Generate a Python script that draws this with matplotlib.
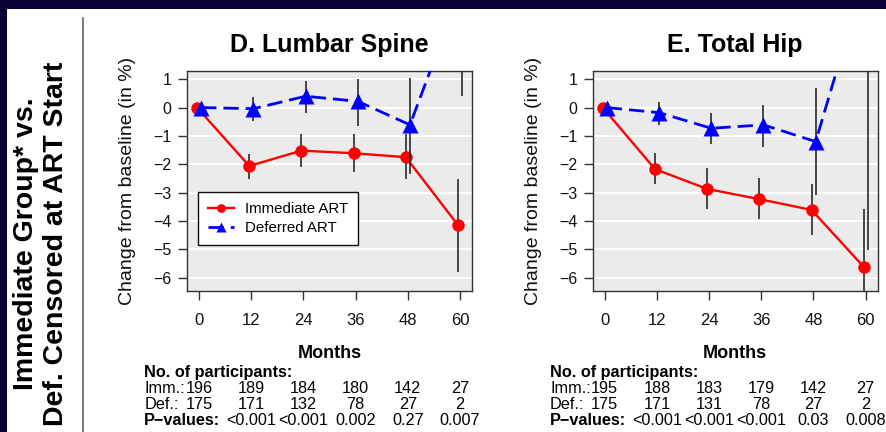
import numpy as np
import matplotlib
matplotlib.use('Agg')
import matplotlib.pyplot as plt
import matplotlib.transforms as mtransforms
from matplotlib.patches import Rectangle
from matplotlib.lines import Line2D

plt.rcParams['font.family'] = ['Liberation Sans', 'DejaVu Sans']

nan = np.nan
months = [0, 12, 24, 36, 48, 60]

# D. Lumbar Spine
spine_imm = [0, -2.06, -1.52, -1.61, -1.75, -4.15]
spine_imm_lo = [nan, -2.52, -2.10, -2.28, -2.53, -5.80]
spine_imm_hi = [nan, -1.64, -0.93, -0.94, -0.93, -2.52]
spine_def = [0, -0.04, 0.40, 0.22, -0.61, 4.30]
spine_def_lo = [nan, -0.47, -0.20, -0.65, -2.34, 0.41]
spine_def_hi = [nan, 0.39, 0.92, 1.00, 1.04, 8.20]
spine_n_imm = [196, 189, 184, 180, 142, 27]
spine_n_def = [175, 171, 132, 78, 27, 2]
spine_p = ['<0.001', '<0.001', '0.002', '0.27', '0.007']

# E. Total Hip
hip_imm = [0, -2.17, -2.87, -3.23, -3.61, -5.62]
hip_imm_lo = [nan, -2.71, -3.58, -3.94, -4.50, -7.68]
hip_imm_hi = [nan, -1.61, -2.14, -2.50, -2.71, -3.56]
hip_def = [0, -0.18, -0.73, -0.61, -1.20, 5.00]
hip_def_lo = [nan, -0.61, -1.28, -1.38, -3.08, -5.03]
hip_def_hi = [nan, 0.21, -0.20, 0.09, 0.69, 15.0]
hip_n_imm = [195, 188, 183, 179, 142, 27]
hip_n_def = [175, 171, 131, 78, 27, 2]
hip_p = ['<0.001', '<0.001', '<0.001', '0.03', '0.008']

W, H = 886, 432
NAVY = '#0a0033'


def ay(px):
    # pixel row -> axes fraction (axes spans rows 71..291)
    return 1 - (px - 71) / 220.0


def draw_panel(ax, title, imm, imm_lo, imm_hi, dfr, dfr_lo, dfr_hi,
               n_imm, n_def, pvals, legend=False):
    ax.set_facecolor('#ebebeb')
    for yv in range(-6, 2):
        ax.axhline(yv, color='white', lw=1.5, zorder=1)
    x_imm = [m - 0.45 for m in months]
    x_def = [m + 0.5 for m in months]
    ax.vlines(x_imm, imm_lo, imm_hi, color='#1a1a1a', lw=1.1, zorder=2)
    ax.plot(x_imm, imm, color='#ff0000', lw=1.7, marker='o', ms=9,
            mec='none', zorder=3, label='Immediate ART')
    ax.vlines(x_def, dfr_lo, dfr_hi, color='#1a1a1a', lw=1.1, zorder=4)
    ax.plot(x_def, dfr, color='#0000ff', lw=2.0, ls=(0, (5.5, 2.5)),
            marker='^', ms=11, mec='none', zorder=5, label='Deferred ART')

    ax.set_xlim(-2.76, 62.76)
    ax.set_ylim(-6.47, 1.29)
    ax.set_xticks(months)
    ax.set_yticks(range(-6, 2))
    ax.tick_params(direction='out', length=6.5, width=1, color='#333333',
                   labelsize=11.5, labelcolor='#111111')
    ax.tick_params(axis='x', pad=9, labelsize=12)
    ax.tick_params(axis='y', pad=4.7)
    for sp in ax.spines.values():
        sp.set_color('#333333')
        sp.set_linewidth(1.0)

    ax.set_title(title, fontsize=18, fontweight='bold', pad=13.9)
    ax.set_ylabel('Change from baseline (in %)', fontsize=14, color='#111111')
    ax.yaxis.set_label_coords(-0.179, 0.5)

    if legend:
        leg = ax.legend(loc='upper left', bbox_to_anchor=(0.04, 0.449),
                        fontsize=10.8, frameon=True, fancybox=False,
                        edgecolor='#111111', framealpha=1, borderpad=0.65,
                        handlelength=1.7, handletextpad=0.75,
                        labelspacing=0.35, markerscale=0.7, borderaxespad=0)
        leg.get_frame().set_linewidth(1.0)
        leg.set_zorder(10)

    # participants / p-values table
    tr = mtransforms.blended_transform_factory(ax.transData, ax.transAxes)
    xl = (144.3 - 187) / 285.0
    fs = 11.7
    ax.text(0.5, ay(357.7), 'Months', transform=ax.transAxes, ha='center',
            va='baseline', fontsize=13, fontweight='bold')
    ax.text(xl, ay(377.3), 'No. of participants:', transform=ax.transAxes,
            ha='left', va='baseline', fontsize=fs, fontweight='bold')
    ax.text(xl, ay(393.3), 'Imm.:', transform=ax.transAxes, ha='left',
            va='baseline', fontsize=fs)
    ax.text(xl, ay(409.3), 'Def.:', transform=ax.transAxes, ha='left',
            va='baseline', fontsize=fs)
    ax.text(xl, ay(425.3), 'P\u2212values:', transform=ax.transAxes,
            ha='left', va='baseline', fontsize=fs, fontweight='bold')
    for m, a, b in zip(months, n_imm, n_def):
        ax.text(m, ay(393.3), str(a), transform=tr, ha='center',
                va='baseline', fontsize=fs)
        ax.text(m, ay(409.3), str(b), transform=tr, ha='center',
                va='baseline', fontsize=fs)
    for m, p in zip(months[1:], pvals):
        ax.text(m, ay(425.3), p, transform=tr, ha='center', va='baseline',
                fontsize=fs)


fig = plt.figure(figsize=(W / 100, H / 100), dpi=100)
fig.patch.set_facecolor('white')
# navy frame bands (top and left)
fig.add_artist(Rectangle((0, 1 - 9.3 / H), 1, 9.3 / H, transform=fig.transFigure,
                         facecolor=NAVY, edgecolor='none'))
fig.add_artist(Rectangle((0, 0), 7 / W, 1, transform=fig.transFigure,
                         facecolor=NAVY, edgecolor='none'))
fig.add_artist(Line2D([83.3 / W, 83.3 / W], [0, 1 - 18.3 / H],
                      transform=fig.transFigure, color='#666666', lw=1.2))
fig.text(41 / W, 1 - 244 / H, 'Immediate Group* vs.\nDef. Censored at ART Start',
         rotation=90, ha='center', va='center', fontsize=20.5,
         fontweight='bold', multialignment='center', linespacing=1.2)

ax1 = fig.add_axes([187 / W, 1 - 291 / H, 285 / W, 220 / H])
ax2 = fig.add_axes([592.7 / W, 1 - 291 / H, 285 / W, 220 / H])

draw_panel(ax1, 'D. Lumbar Spine', spine_imm, spine_imm_lo, spine_imm_hi,
           spine_def, spine_def_lo, spine_def_hi, spine_n_imm, spine_n_def,
           spine_p, legend=True)
draw_panel(ax2, 'E. Total Hip', hip_imm, hip_imm_lo, hip_imm_hi,
           hip_def, hip_def_lo, hip_def_hi, hip_n_imm, hip_n_def, hip_p)

fig.savefig('out.png', dpi=100)
